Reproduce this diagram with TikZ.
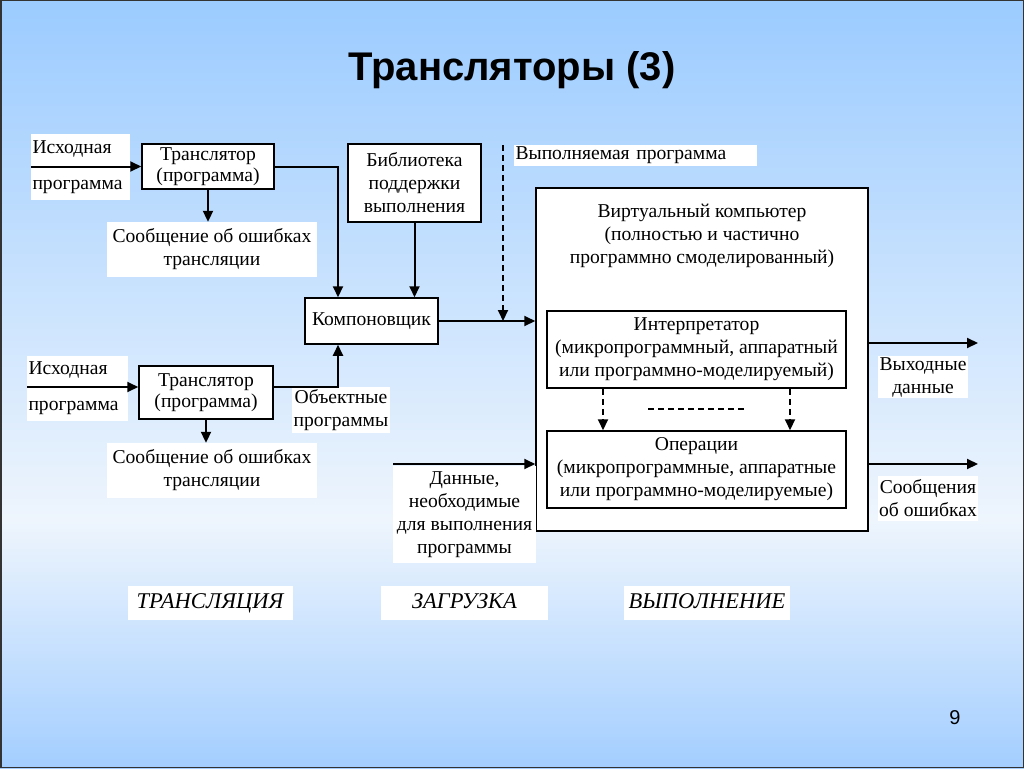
\documentclass[tikz,border=0pt]{standalone}
\usepackage{fontspec}
\setmainfont{Liberation Serif}
\newfontfamily\titlefont{Liberation Sans}
\usetikzlibrary{arrows.meta,calc}
\definecolor{bgtop}{HTML}{9BCBFF}
\definecolor{bgmid}{HTML}{EEF5FD}
\definecolor{bgbot}{HTML}{A3CEFF}
\tikzset{
  txt/.style={font=\fontsize{19.6}{23}\selectfont, inner sep=0pt, align=center},
  tight/.style={font=\fontsize{19.6}{20.5}\selectfont},
  box/.style={txt, draw=black, line width=1.5pt, fill=white},
  lbl/.style={txt, fill=white},
  arr/.style={line width=2pt, -{Triangle[length=11pt,width=10pt]}},
  dsh/.style={line width=2pt, dash pattern=on 6pt off 4pt},
  dsharr/.style={line width=2pt, dash pattern=on 6pt off 4pt, -{Triangle[length=11pt,width=10pt]}},
  stage/.style={lbl, font=\fontsize{22.5}{26}\selectfont\itshape, minimum height=34pt, text height=15pt, text depth=4pt},
}
\begin{document}
\begin{tikzpicture}[x=1pt,y=-1pt]
\useasboundingbox (0,0) rectangle (1024,768);
\shade[top color=bgtop, bottom color=bgmid] (0,0) rectangle (1024,520);
\shade[top color=bgmid, bottom color=bgbot] (0,520) rectangle (1024,768);
\draw[line width=1.5pt, draw=black!80] (0.75,0.75) rectangle (1023.25,767.25);

% title
\node[font=\titlefont\bfseries\fontsize{40}{48}\selectfont, inner sep=0pt] (title) at (512,70) {Трансляторы (3)};
\node[font=\titlefont\fontsize{20}{24}\selectfont, inner sep=0pt] (pgnum) at (955,718) {9};

% row 1
\node[lbl, minimum width=99pt, minimum height=66pt, text width=96pt, align=left] (src1) at (80.5,167) {Исходная\\[13pt]программа};
\node[box, tight, minimum width=132pt, minimum height=45pt] (tr1) at (208,166.5) {Транслятор\\(программа)};
\node[lbl, minimum width=210pt, minimum height=55pt] (err1) at (212,249.5) {Сообщение об ошибках\\трансляции};

% row 2
\node[lbl, minimum width=101pt, minimum height=65pt, text width=98pt, align=left] (src2) at (77.5,388.5) {Исходная\\[13pt]программа};
\node[box, tight, minimum width=134pt, minimum height=53pt] (tr2) at (206,392.5) {Транслятор\\(программа)};
\coordinate (in2) at (27,387);
\coordinate (tr2out) at (273,387);
\node[lbl, minimum width=210pt, minimum height=55pt] (err2) at (212,470.5) {Сообщение об ошибках\\трансляции};
\node[lbl, minimum width=98pt, minimum height=46pt] (obj) at (341,410) {Объектные\\программы};

% linker and library
\node[box, minimum width=133pt, minimum height=78pt] (lib) at (414.5,183) {Библиотека\\поддержки\\выполнения};
\node[box, minimum width=133pt, minimum height=46pt] (link) at (371.5,321) {Компоновщик};

% executable program label
\node[lbl, minimum width=243pt, minimum height=21pt, text width=240pt, align=left] (exe) at (635.5,155.5) {Выполняемая программа};
\coordinate (exetop) at (503,145);

% virtual computer
\node[box, minimum width=332pt, minimum height=343pt] (vm) at (702,359.5) {};
\node[txt] (vmtxt) at (702,236) {Виртуальный компьютер\\(полностью и частично\\программно смоделированный)};
\node[box, minimum width=299pt, minimum height=77pt] (interp) at (696.5,349.5) {Интерпретатор\\(микропрограммный, аппаратный\\или программно-моделируемый)};
\node[box, minimum width=299pt, minimum height=77pt] (ops) at (696.5,469.5) {Операции\\(микропрограммные, аппаратные\\или программно-моделируемые)};
\coordinate (dl) at (648,409);
\coordinate (dr) at (745,409);

% data
\node[lbl, minimum width=143pt, minimum height=97pt] (data) at (464.5,514.5) {Данные,\\необходимые\\для выполнения\\программы};
\coordinate (datain) at (393,464);

% outputs
\coordinate (out1) at (978,343);
\coordinate (out2) at (978,464);
\node[lbl, minimum width=90pt, minimum height=42pt] (outl1) at (923,377) {Выходные\\данные};
\node[lbl, minimum width=100pt, minimum height=45pt] (outl2) at (928,498.5) {Сообщения\\об ошибках};

% stages
\node[stage, minimum width=165pt] (st1) at (210,603) {ТРАНСЛЯЦИЯ};
\node[stage, minimum width=167pt] (st2) at (464.5,603) {ЗАГРУЗКА};
\node[stage, minimum width=166pt] (st3) at (707,603) {ВЫПОЛНЕНИЕ};

% connectors
\draw[arr] (src1.west |- tr1.west) -- (tr1.west);
\draw[arr] (tr1.south) -- (tr1.south |- err1.north);
\draw[arr] (tr1.east) -| ([xshift=-33.5pt]link.north);
\draw[arr] (in2) -- (in2 -| tr2.west);
\draw[arr] (tr2.south) -- (tr2.south |- err2.north);
\draw[arr] (tr2out) -| ([xshift=-33.5pt]link.south);
\draw[arr] (lib.south) -- (lib.south |- link.north);
\draw[dsharr] (exetop) -- (exetop |- link.east);
\draw[arr] (link.east) -- (link.east -| vm.west);
\draw[arr] (datain) -- (datain -| vm.west);
\draw[dsharr] ([xshift=-93.5pt]interp.south) -- ([xshift=-93.5pt]ops.north);
\draw[dsharr] ([xshift=93.5pt]interp.south) -- ([xshift=93.5pt]ops.north);
\draw[dsh] (dl) -- (dr);
\draw[arr] (vm.east |- out1) -- (out1);
\draw[arr] (vm.east |- out2) -- (out2);
\end{tikzpicture}
\end{document}
